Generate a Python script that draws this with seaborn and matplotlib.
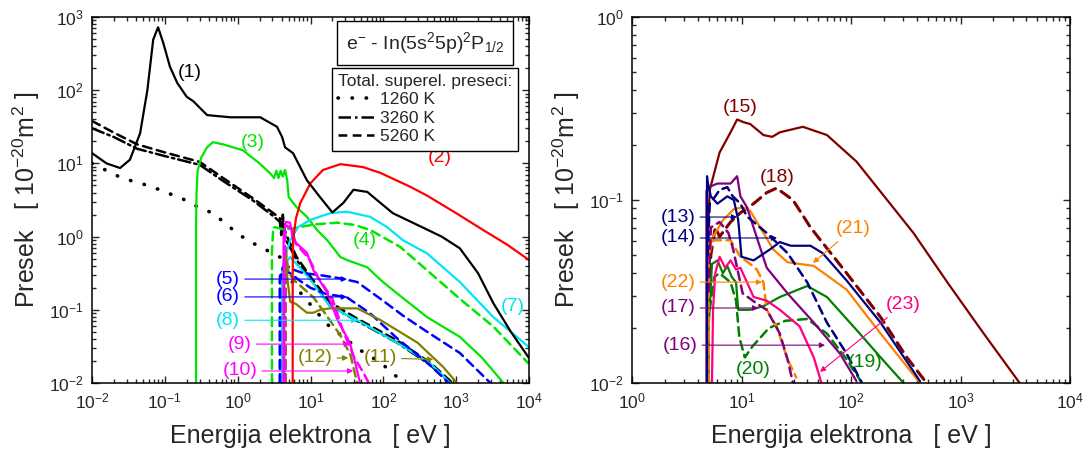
import matplotlib
matplotlib.use("Agg")
import matplotlib.pyplot as plt
import matplotlib.ticker as ticker
from matplotlib.lines import Line2D
import numpy as np
import pandas as pd
import seaborn as sns

# values, as log10(E [eV]) and log10(sigma [1e-20 m^2])
# left panel
c1_x = [-2, -1.8, -1.615, -1.48, -1.34, -1.24, -1.16, -1.093, -1.02, -0.93, -0.83, -0.70, -0.61, -0.56, -0.42,
        -0.1, 0.31, 0.54, 0.61, 0.65, 0.76, 0.95, 1.13, 1.30, 1.45, 1.59, 1.78, 1.96, 2.13, 2.55, 2.8, 3.05, 3.3,
        3.51, 3.75, 4.0]
c1_y = [1.14, 1.0, 0.937, 1.05, 1.41, 2.0, 2.69, 2.86, 2.64, 2.32, 2.10, 1.91, 1.85, 1.80, 1.66,
        1.63, 1.63, 1.50, 1.36, 1.22, 1.14, 0.77, 0.54, 0.33, 0.46, 0.64, 0.61, 0.46, 0.32, 0.12, 0.0, -0.16, -0.5,
        -0.91, -1.3, -1.66]
c2_x = [0.755, 0.755, 0.76, 0.80, 0.86, 1.0, 1.17, 1.41, 1.72, 1.96, 2.37, 2.6, 3.0, 3.37, 3.7, 4.0]
c2_y = [-2.0, -0.5, -0.05, 0.25, 0.46, 0.73, 0.91, 0.99, 0.95, 0.87, 0.68, 0.56, 0.32, 0.09, -0.11, -0.32]
c3_x = [-0.571, -0.571, -0.565, -0.55, -0.50, -0.42, -0.34, -0.2, 0.07, 0.30, 0.44, 0.50, 0.53, 0.56, 0.59, 0.62,
        0.65, 0.68, 0.70, 0.81, 0.95, 1.09, 1.23, 1.41, 1.5, 1.78, 1.96, 2.13, 2.6, 3.05, 3.35, 3.65]
c3_y = [-2.0, 0.2, 0.6, 0.9, 1.08, 1.22, 1.29, 1.26, 1.18, 1.0, 0.87, 0.80, 0.90, 0.80, 0.90, 0.82,
        0.91, 0.77, 0.54, 0.40, 0.27, 0.09, -0.05, -0.28, -0.32, -0.42, -0.59, -0.73, -1.10, -1.37, -1.65, -2.0]
c4_x = [0.47, 0.47, 0.49, 0.55, 0.62, 0.75, 0.9, 1.09, 1.37, 1.6, 1.82, 2.23, 2.6, 3.05, 3.51, 3.99]
c4_y = [-2.0, -0.2, 0.13, 0.12, 0.10, 0.11, 0.14, 0.17, 0.19, 0.16, 0.09, -0.14, -0.46, -0.85, -1.23, -1.73]
c5_x = [0.58, 0.58, 0.62, 0.68, 0.76, 0.9, 1.09, 1.41, 1.64, 1.96, 2.27, 2.6, 3.05, 3.47]
c5_y = [-2.0, -0.55, -0.42, -0.40, -0.45, -0.50, -0.52, -0.57, -0.62, -0.85, -1.08, -1.3, -1.59, -2.0]
c6_x = [0.58, 0.58, 0.62, 0.72, 0.85, 1.0, 1.2, 1.5, 1.82, 2.2, 2.6, 2.9]
c6_y = [-2.0, -0.6, -0.45, -0.50, -0.60, -0.70, -0.78, -0.83, -1.05, -1.40, -1.72, -2.0]
c7_x = [0.61, 0.61, 0.66, 0.72, 0.83, 1.0, 1.27, 1.5, 1.82, 2.05, 2.27, 2.6, 3.05, 3.51, 4.0]
c7_y = [-2.0, -0.45, -0.25, -0.05, 0.13, 0.23, 0.32, 0.34, 0.27, 0.13, -0.05, -0.23, -0.62, -1.10, -1.51]
c8_x = [0.61, 0.61, 0.64, 0.72, 0.85, 1.0, 1.27, 1.64, 2.19, 2.64, 2.92]
c8_y = [-2.0, -0.6, -0.38, -0.28, -0.42, -0.59, -0.96, -1.14, -1.45, -1.73, -2.0]
c9_x = [0.63, 0.63, 0.66, 0.72, 0.76, 0.95, 1.04, 1.23, 1.37, 1.54, 1.62, 1.68]
c9_y = [-2.0, 0.0, 0.2, 0.19, -0.05, -0.22, -0.46, -0.77, -1.14, -1.45, -1.75, -2.0]
c10_x = [0.65, 0.65, 0.68, 0.74, 0.8, 0.98, 1.1, 1.3, 1.45, 1.6, 1.72, 1.8]
c10_y = [-2.0, 0.05, 0.15, 0.1, -0.1, -0.3, -0.55, -0.85, -1.3, -1.65, -1.85, -2.0]
c11_x = [0.64, 0.64, 0.66, 0.68, 0.72, 0.80, 0.95, 1.04, 1.13, 1.27, 1.64, 1.96, 2.47, 2.82, 3.01]
c11_y = [-2.0, -0.6, -0.15, -0.55, -0.89, -0.92, -1.04, -1.04, -1.0, -0.98, -0.98, -1.14, -1.45, -1.78, -2.0]
c12_x = [0.66, 0.66, 0.70, 0.80, 0.95, 1.04, 1.2, 1.41, 1.55, 1.64]
c12_y = [-2.0, -0.2, -0.5, -0.62, -0.75, -0.83, -1.05, -1.35, -1.62, -2.0]
t1260_x = [-2, -1.59, -1.24, -1.07, -0.72, -0.54, -0.34, -0.06, 0.13, 0.31, 0.58, 0.70, 0.83, 1.23, 1.68, 1.96,
           2.19, 2.25]
t1260_y = [1.0, 0.80, 0.70, 0.64, 0.50, 0.40, 0.32, 0.09, -0.05, -0.14, -0.28, -0.55, -0.73, -1.2, -1.55, -1.72,
           -1.92, -2.0]
t3260_x = [-2, -1.7, -1.38, -1.0, -0.52, -0.2, 0.2, 0.49, 0.58, 0.60, 0.62, 0.66, 0.72, 0.81, 1.0, 1.27, 1.64,
           2.19, 2.64, 2.92]
t3260_y = [1.48, 1.36, 1.20, 1.10, 0.98, 0.76, 0.50, 0.28, 0.20, 0.0, 0.25, -0.05, -0.15, -0.32, -0.58, -0.95,
           -1.15, -1.45, -1.75, -2.0]
t5260_x = [-2, -1.7, -1.38, -1.0, -0.52, -0.2, 0.2, 0.49, 0.58, 0.60, 0.62, 0.64, 0.70, 0.81, 1.0, 1.27, 1.64,
           2.19, 2.64, 2.95]
t5260_y = [1.58, 1.42, 1.26, 1.15, 1.02, 0.80, 0.53, 0.32, 0.25, 0.05, 0.30, 0.10, -0.05, -0.28, -0.55, -0.90,
           -1.12, -1.42, -1.72, -2.0]

# right panel
c13_x = [0.69, 0.71, 0.76, 0.80, 0.87, 0.92, 0.99, 1.05, 1.23, 1.42, 1.60, 1.78, 1.96, 2.10]
c13_y = [-1.3, -1.02, -0.98, -0.945, -0.93, -0.98, -1.02, -1.09, -1.18, -1.29, -1.45, -1.67, -1.84, -2.0]
c14_x = [0.685, 0.685, 0.69, 0.72, 0.78, 0.87, 0.93, 0.97, 1.0, 1.11, 1.26, 1.35, 1.45, 1.63, 1.74, 1.96, 2.27,
         2.63]
c14_y = [-2.0, -0.87, -0.9, -0.98, -1.02, -0.98, -1.0, -1.11, -1.31, -1.33, -1.27, -1.23, -1.25, -1.25, -1.29,
         -1.44, -1.67, -1.99]
c15_x = [0.69, 0.69, 0.70, 0.71, 0.80, 0.90, 0.96, 1.02, 1.08, 1.20, 1.28, 1.35, 1.56, 1.78, 2.05, 2.33, 2.57,
         2.88, 3.2, 3.54]
c15_y = [-2.0, -1.4, -1.1, -0.945, -0.74, -0.63, -0.56, -0.575, -0.585, -0.645, -0.655, -0.63, -0.60, -0.645,
         -0.79, -1.0, -1.18, -1.45, -1.72, -2.0]
c16_x = [0.68, 0.68, 0.70, 0.78, 0.9, 0.96, 0.99, 1.05, 1.11, 1.23, 1.42, 1.66, 1.90, 2.05]
c16_y = [-2.0, -0.95, -0.93, -0.91, -0.91, -0.87, -0.98, -1.04, -1.15, -1.37, -1.51, -1.67, -1.84, -1.99]
c17_x = [0.70, 0.72, 0.80, 0.88, 0.92, 1.01, 1.15, 1.23, 1.35, 1.42, 1.47]
c17_y = [-1.5, -1.15, -1.12, -1.18, -1.26, -1.51, -1.57, -1.60, -1.73, -1.87, -2.0]
c18_x = [0.70, 0.72, 0.76, 0.80, 0.90, 0.99, 1.11, 1.23, 1.32, 1.47, 1.63, 1.96, 2.27, 2.51, 2.69]
c18_y = [-1.6, -1.3, -1.15, -1.2, -1.12, -1.07, -1.02, -0.96, -0.935, -1.0, -1.15, -1.40, -1.64, -1.86, -2.0]
c19_x = [0.70, 0.70, 0.73, 0.78, 0.83, 0.87, 0.91, 0.95, 0.97, 1.08, 1.2, 1.35, 1.6, 1.78, 2.08, 2.27, 2.48]
c19_y = [-2.0, -1.7, -1.35, -1.33, -1.40, -1.36, -1.42, -1.45, -1.60, -1.60, -1.58, -1.53, -1.47, -1.53, -1.73,
         -1.86, -2.0]
c20_x = [0.71, 0.75, 0.8, 0.9, 0.95, 0.98, 1.03, 1.1, 1.25, 1.4, 1.6, 1.78, 1.96, 2.1]
c20_y = [-1.6, -1.42, -1.40, -1.45, -1.55, -1.75, -1.86, -1.8, -1.7, -1.66, -1.65, -1.73, -1.87, -2.0]
c21_x = [0.69, 0.69, 0.71, 0.74, 0.83, 0.93, 1.01, 1.08, 1.17, 1.29, 1.42, 1.66, 1.96, 2.27, 2.63]
c21_y = [-2.0, -1.2, -1.25, -1.20, -1.11, -1.05, -1.04, -1.06, -1.15, -1.27, -1.34, -1.36, -1.49, -1.73, -2.0]
c22_x = [0.70, 0.70, 0.74, 0.78, 0.9, 0.99, 1.08, 1.14, 1.2, 1.23, 1.32, 1.42, 1.5]
c22_y = [-2.0, -1.3, -1.22, -1.22, -1.22, -1.31, -1.35, -1.38, -1.45, -1.60, -1.69, -1.87, -1.97]
c23_x = [0.73, 0.74, 0.76, 0.80, 0.85, 0.90, 0.95, 0.99, 1.05, 1.11, 1.23, 1.35, 1.53, 1.66, 1.73]
c23_y = [-2.0, -1.6, -1.4, -1.31, -1.37, -1.33, -1.38, -1.37, -1.45, -1.53, -1.55, -1.60, -1.69, -1.86, -2.0]

temps = ["1260 K", "3260 K", "5260 K"]

LIME = "#00E600"
CYAN = "#00E5F5"
OLIVE = "#808000"
DRED = "#800000"
NAVY = "#000080"
PURP = "#800080"
DGRN = "#008000"
ORNG = "#FF8000"
PINK = "#FF0080"

DASH = (0, (3.5, 2.2))
DOT = (0, (0.1, 3.8))
DASHDOT = (0, (5, 1.6, 1, 1.6))


def curve(ax, lx, ly, color, ls="-", lw=1.6):
    d = pd.DataFrame({"E": 10 ** np.array(lx, float), "S": 10 ** np.array(ly, float)})
    sns.lineplot(data=d, x="E", y="S", ax=ax, color=color, linestyle=ls, lw=lw,
                 estimator=None, sort=False, legend=False, dash_capstyle="round")


def tag(ax, s, xy, color, target=None, fs=14):
    if target is None:
        ax.text(xy[0], xy[1], s, color=color, fontsize=fs, ha="center", va="center")
    else:
        ax.annotate(s, xy=target, xytext=xy, color=color, fontsize=fs, ha="center", va="center",
                    arrowprops=dict(arrowstyle="-|>", color=color, lw=0.8, mutation_scale=8,
                                    shrinkA=1, shrinkB=0))


def style_axes(ax, xlim, ylim):
    ax.set_xscale("log")
    ax.set_yscale("log")
    ax.set_xlim(*xlim)
    ax.set_ylim(*ylim)
    for a in (ax.xaxis, ax.yaxis):
        a.set_major_locator(ticker.LogLocator(base=10, numticks=20))
        a.set_minor_locator(ticker.LogLocator(base=10, subs=np.arange(2, 10), numticks=200))
        a.set_minor_formatter(ticker.NullFormatter())
    ax.tick_params(which="both", direction="in", top=True, right=True, width=1, labelsize=12.5)
    ax.tick_params(which="major", length=5, pad=6)
    ax.tick_params(which="minor", length=2.8)
    for sp in ax.spines.values():
        sp.set_linewidth(1.1)
        sp.set_color("black")
    ax.set_xlabel("Energija elektrona   [ eV ]", fontsize=18, labelpad=9)
    ax.set_ylabel("Presek   [ 10$^{-20}$m$^2$ ]", fontsize=18, labelpad=5)


sns.set_theme(style="ticks")
plt.rcParams["font.family"] = ["Liberation Sans", "DejaVu Sans"]
plt.rcParams["mathtext.fontset"] = "custom"
plt.rcParams["mathtext.rm"] = "Liberation Sans"
plt.rcParams["mathtext.it"] = "Liberation Sans:italic"

fig = plt.figure(figsize=(10.85, 4.57), dpi=100)
axL = fig.add_axes([0.0848, 0.1619, 0.4028, 0.8009])
axR = fig.add_axes([0.5825, 0.1619, 0.4037, 0.8009])
axL.set_xscale("log")
axL.set_yscale("log")
axR.set_xscale("log")
axR.set_yscale("log")

# left panel
curve(axL, t1260_x, t1260_y, "black", DOT, 2.6)
curve(axL, t3260_x, t3260_y, "black", DASHDOT, 1.8)
curve(axL, t5260_x, t5260_y, "black", DASH, 1.8)
curve(axL, c3_x, c3_y, LIME)
curve(axL, c4_x, c4_y, LIME, DASH, 1.8)
curve(axL, c7_x, c7_y, CYAN)
curve(axL, c8_x, c8_y, CYAN)
curve(axL, c5_x, c5_y, "#0000FF", DASH, 1.8)
curve(axL, c6_x, c6_y, "#0000FF", DASH, 1.8)
curve(axL, c11_x, c11_y, OLIVE)
curve(axL, c12_x, c12_y, OLIVE, DASH, 1.8)
curve(axL, c9_x, c9_y, "#FF00FF")
curve(axL, c10_x, c10_y, "#FF00FF", DASH, 1.8)
curve(axL, c2_x, c2_y, "#FF0000")
curve(axL, c1_x, c1_y, "black")

tag(axL, "(1)", (0.222, 172), "black")
tag(axL, "(2)", (603, 11.9), "#FF0000")
tag(axL, "(3)", (1.62, 19), LIME)
tag(axL, "(4)", (56, 0.89), LIME)
tag(axL, "(7)", (5900, 0.11), CYAN)
tag(axL, "(5)", (0.74, 0.263), "#0000FF", (31.6, 0.263))
tag(axL, "(6)", (0.74, 0.15), "#0000FF", (31.6, 0.15))
tag(axL, "(8)", (0.74, 0.072), CYAN, (43.7, 0.072))
tag(axL, "(9)", (1.07, 0.034), "#FF00FF", (34.7, 0.034))
tag(axL, "(10)", (1.07, 0.0146), "#FF00FF", (38.5, 0.0146))
tag(axL, "(12)", (11.5, 0.022), OLIVE, (32.9, 0.022))
tag(axL, "(11)", (91, 0.022), OLIVE, (483, 0.021))

axL.text(0.762, 0.929, "e$^{-}$ - In(5s$^2$5p)$^2$P$_{1/2}$", transform=axL.transAxes, fontsize=14,
         ha="center", va="center",
         bbox=dict(boxstyle="square,pad=0.45", fc="white", ec="black", lw=1))
handles = [Line2D([], [], color="black", linestyle=DOT, lw=2.6, dash_capstyle="round"),
           Line2D([], [], color="black", linestyle=DASHDOT, lw=1.8),
           Line2D([], [], color="black", linestyle=DASH, lw=1.8)]
leg = axL.legend(handles, temps, title="Total. superel. preseci:", loc="upper right",
                 bbox_to_anchor=(0.975, 0.862), borderaxespad=0, fontsize=12.5, title_fontsize=12.5,
                 frameon=True, fancybox=False, edgecolor="black", framealpha=1, alignment="left",
                 handlelength=2.1, handletextpad=0.35, labelspacing=0.2, borderpad=0.35)
leg.get_frame().set_linewidth(1)
style_axes(axL, (1e-2, 1e4), (1e-2, 1e3))

# right panel
curve(axR, c15_x, c15_y, DRED)
curve(axR, c18_x, c18_y, DRED, DASH, 2.2)
curve(axR, c20_x, c20_y, DGRN, DASH, 1.8)
curve(axR, c19_x, c19_y, DGRN)
curve(axR, c22_x, c22_y, ORNG, DASH, 1.8)
curve(axR, c21_x, c21_y, ORNG)
curve(axR, c17_x, c17_y, PURP, DASH, 1.8)
curve(axR, c16_x, c16_y, PURP)
curve(axR, c13_x, c13_y, NAVY, DASH, 1.8)
curve(axR, c14_x, c14_y, NAVY)
curve(axR, c23_x, c23_y, PINK)

tag(axR, "(15)", (9.7, 0.322), DRED)
tag(axR, "(18)", (21.1, 0.132), DRED)
tag(axR, "(13)", (2.63, 0.0807), NAVY, (9.1, 0.0807))
tag(axR, "(14)", (2.63, 0.062), NAVY, (21.1, 0.062))
tag(axR, "(21)", (104, 0.0695), ORNG, (45, 0.0453))
tag(axR, "(22)", (2.63, 0.0356), ORNG, (15.4, 0.0356))
tag(axR, "(17)", (2.63, 0.0257), PURP, (14.2, 0.0257))
tag(axR, "(16)", (2.74, 0.0161), PURP, (57.9, 0.0161))
tag(axR, "(19)", (134, 0.013), DGRN)
tag(axR, "(20)", (12.7, 0.0118), DGRN)
tag(axR, "(23)", (298, 0.0267), PINK, (52.1, 0.0115))
style_axes(axR, (1, 1e4), (1e-2, 1))

fig.savefig("out.png", dpi=100)
